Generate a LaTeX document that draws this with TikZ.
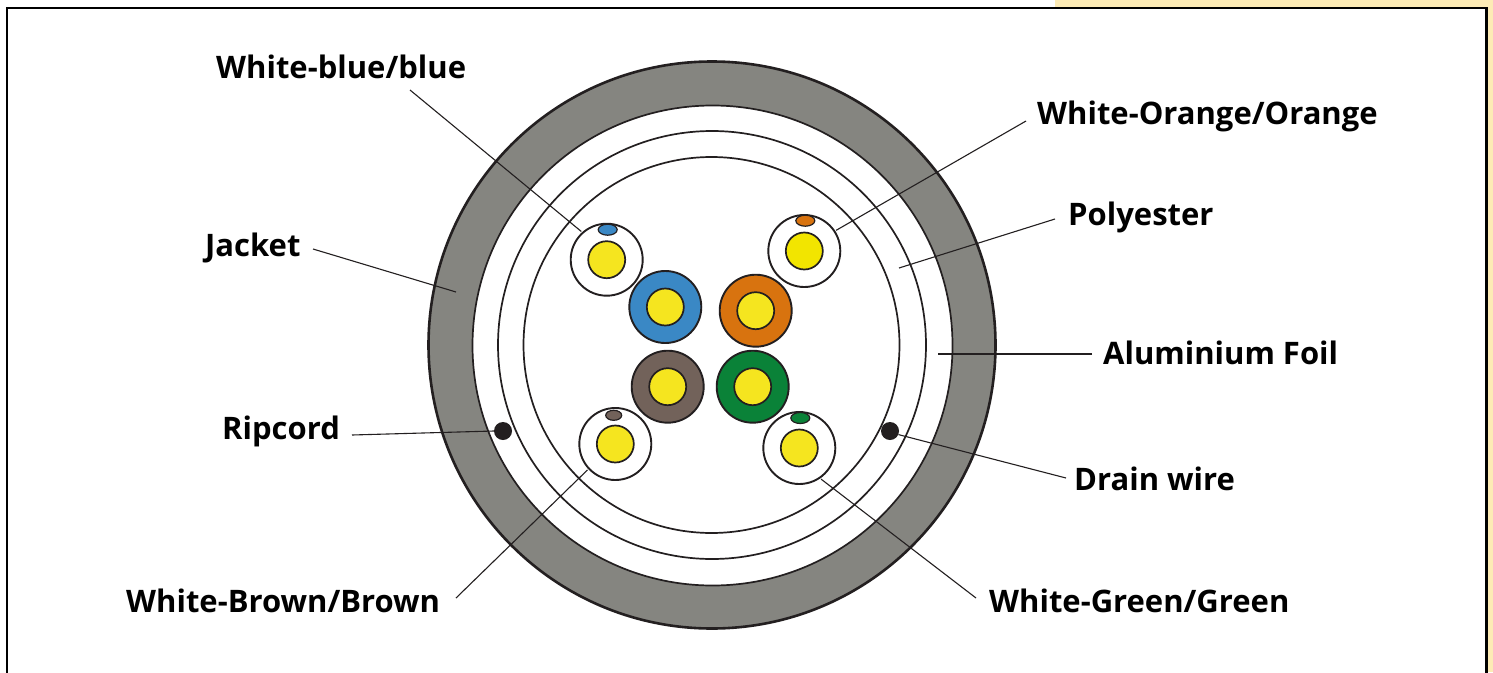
\documentclass[tikz,border=0pt]{standalone}
\usepackage{fontspec}
\setmainfont{Open Sans}
\usepackage{xcolor}
\usetikzlibrary{shapes.geometric}
\definecolor{jacketgray}{HTML}{858580}
\definecolor{corewire}{HTML}{F5E51F}
\definecolor{corewirealt}{HTML}{F2E500}
\definecolor{pairblue}{HTML}{3A88C5}
\definecolor{pairorange}{HTML}{D8730F}
\definecolor{pairbrown}{HTML}{72625A}
\definecolor{pairgreen}{HTML}{0A8238}
\definecolor{pagecream}{HTML}{FDEBB5}
\definecolor{inkline}{HTML}{231F20}

\begin{document}
\begin{tikzpicture}[x=1pt, y=-1pt,
    ring/.style={circle, draw=inkline, inner sep=0pt, line width=1.7pt},
    wire/.style={ring, minimum size=72pt, line width=1.9pt, outer sep=2pt},
    core/.style={ring, minimum size=37pt, fill=corewire, line width=1.7pt},
    tag/.style={ellipse, draw=inkline, inner sep=0pt, line width=1.2pt, minimum width=19pt, minimum height=11pt},
    dot/.style={circle, fill=inkline, inner sep=0pt, minimum size=18pt},
    lbl/.style={font=\fontsize{31}{36}\selectfont\bfseries, text=black, inner sep=0pt, anchor=base west},
    leader/.style={draw=inkline, line width=1.1pt},
]
\clip (0,0) rectangle (1493,672);
\fill[pagecream] (1055,0) rectangle (1493,672);
\draw[fill=white, line width=2.8pt] (7,8) rectangle (1486.5,720);

% Cable layers
\node[ring, fill=jacketgray, minimum size=567pt, line width=2.6pt] (jacket) at (712,345) {};
\node[ring, fill=white, minimum size=480pt] (foil) at (712.5,345.5) {};
\node[ring, minimum size=428pt] (poly) at (712,345) {};
\node[ring, minimum size=376pt] (inner) at (711.5,345) {};

% Solid pairs
\node[wire, fill=pairblue] (blue) at (665.3,307) {};
\node[core] at (blue) {};
\node[wire, fill=pairorange] (orange) at (755.7,310.7) {};
\node[core] at (orange) {};
\node[wire, fill=pairbrown] (brown) at (667.7,386.7) {};
\node[core] at (brown) {};
\node[wire, fill=pairgreen] (green) at (752.7,386.7) {};
\node[core] at (green) {};

% White pairs
\node[wire, fill=white] (wblue) at (606.7,259.7) {};
\node[core] at (wblue) {};
\node[tag, fill=pairblue] (wbluetag) at (607.7,229.7) {};
\node[wire, fill=white] (worange) at (804.3,251) {};
\node[core, fill=corewirealt] at (worange) {};
\node[tag, fill=pairorange] (worangetag) at (805.3,220.7) {};
\node[wire, fill=white] (wbrown) at (615.3,444) {};
\node[core] at (wbrown) {};
\node[tag, fill=pairbrown, minimum width=16pt, minimum height=10pt] (wbrowntag) at (613.7,415.3) {};
\node[wire, fill=white] (wgreen) at (799.3,448) {};
\node[core] at (wgreen) {};
\node[tag, fill=pairgreen] (wgreentag) at (800.3,418) {};

\node[dot] (ripcord) at (503,431) {};
\node[dot] (drain) at (890,431) {};

% Free ends inside the layers
\coordinate (jacketpt) at (456,292);
\coordinate (polypt) at (899,268);
\coordinate (foilpt) at (938,354);

% Labels
\node[lbl] (lwblue) at (216,78) {White-blue/blue};
\node[lbl] (lworange) at (1037,124) {White-Orange/Orange};
\node[lbl] (ljacket) at (205,256) {Jacket};
\node[lbl] (lpoly) at (1068,225) {Polyester};
\node[lbl] (lfoil) at (1103,364) {Aluminium Foil};
\node[lbl] (lripcord) at (222,439) {Ripcord};
\node[lbl] (ldrain) at (1074,490) {Drain wire};
\node[lbl] (lwbrown) at (126,612) {White-Brown/Brown};
\node[lbl] (lwgreen) at (989,612) {White-Green/Green};

\draw[leader] ([shift={(194,12)}]lwblue.base west) -- (wblue.132);
\draw[leader] ([shift={(-11,-3)}]lworange.base west) -- (worange.33);
\draw[leader] ([shift={(108,-7)}]ljacket.base west) -- (jacketpt);
\draw[leader] ([shift={(-13,-6)}]lpoly.base west) -- (polypt);
\draw[leader] ([shift={(-11,-10)}]lfoil.base west) -- (foilpt);
\draw[leader] ([shift={(130,-4)}]lripcord.base west) -- (ripcord.180);
\draw[leader] ([shift={(-8,-12)}]ldrain.base west) -- (drain.337);
\draw[leader] ([shift={(330,-14)}]lwbrown.base west) -- (wbrown.223);
\draw[leader] ([shift={(-13,-14)}]lwgreen.base west) -- (wgreen.305);
\end{tikzpicture}
\end{document}
